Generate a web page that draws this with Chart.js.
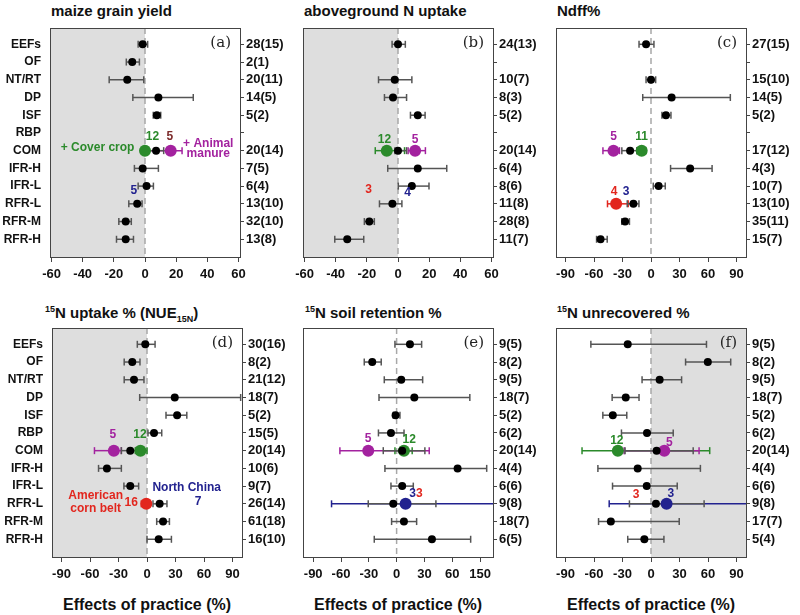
<!DOCTYPE html>
<html>
<head>
<meta charset="utf-8">
<script src="https://cdn.jsdelivr.net/npm/chart.js@4.4.0/dist/chart.umd.min.js"></script>
<style>
body { margin:0; background:#fff; overflow:hidden; }
#wrap { position:relative; width:800px; height:615px; font-family:"Liberation Sans", Arial, sans-serif; color:#111; }
canvas { position:absolute; }
.ttl { position:absolute; font-weight:bold; font-size:15px; line-height:18px; white-space:nowrap; }
.xttl { position:absolute; font-weight:bold; font-size:16px; line-height:18px; width:190px; text-align:center; white-space:nowrap; }
.sup { font-size:9px; position:relative; top:-6px; }
.sub { font-size:9px; position:relative; top:4px; }
</style>
</head>
<body>
<div id="wrap">
  <div class="ttl" style="left:51px;top:2px">maize grain yield</div>
  <div class="ttl" style="left:304px;top:2px">aboveground N uptake</div>
  <div class="ttl" style="left:557px;top:2px">Ndff%</div>
  <div class="ttl" style="left:45px;top:304px"><span class="sup">15</span>N uptake % (NUE<span class="sub">15N</span>)</div>
  <div class="ttl" style="left:305px;top:304px"><span class="sup">15</span>N soil retention %</div>
  <div class="ttl" style="left:557px;top:304px"><span class="sup">15</span>N unrecovered %</div>
  <div class="xttl" style="left:52px;top:596px">Effects of practice (%)</div>
  <div class="xttl" style="left:303px;top:596px">Effects of practice (%)</div>
  <div class="xttl" style="left:556px;top:596px">Effects of practice (%)</div>

  <canvas id="pa" width="294" height="300" style="left:0px;top:0px"></canvas>
  <canvas id="pb" width="294" height="300" style="left:253px;top:0px"></canvas>
  <canvas id="pc" width="294" height="300" style="left:506px;top:0px"></canvas>
  <canvas id="pd" width="294" height="315" style="left:2px;top:300px"></canvas>
  <canvas id="pe" width="294" height="315" style="left:253px;top:300px"></canvas>
  <canvas id="pf" width="294" height="315" style="left:506px;top:300px"></canvas>
</div>
<script>
// practices (rows, top to bottom)
const rowNames = ['EEFs','OF','NT/RT','DP','ISF','RBP','COM','IFR-H','IFR-L','RFR-L','RFR-M','RFR-H'];

// x axis ticks
const ticks60 = [-60,-40,-20,0,20,40,60];
const ticks90 = [-90,-60,-30,0,30,60,90];
const labels60 = ['-60','-40','-20','0','20','40','60'];
const labels90 = ['-90','-60','-30','0','30','60','90'];
const labelsE = ['-90','-60','-30','0','30','60','150'];

// (a) maize grain yield
const aCounts = ['28(15)','2(1)','20(11)','14(5)','5(2)','','20(14)','7(5)','6(4)','13(10)','32(10)','13(8)'];
const aMean = [-1.5, -8.2, -11.4, 8.6, 7.6, null, 7.1, -1.5, 1, -5, -12.4, -12.4];
const aLow  = [-4.4, -12, -23, -7.8, 5.3, null, 2, -6.8, -4.4, -10.4, -16.8, -18.3];
const aHigh = [1.7, -3.6, -0.8, 31, 10.1, null, 12, 8.6, 5.4, -1.9, -8.8, -7.4];
const aGrpName = ['Cover crop','Animal manure'];
const aGrpRow  = ['COM','COM'];
const aGrpMean = [0, 16.5];
const aGrpLow  = [null, 1];
const aGrpHigh = [null, 23.8];

// (b) aboveground N uptake
const bCounts = ['24(13)','','10(7)','8(3)','5(2)','','20(14)','6(4)','8(6)','11(8)','28(8)','11(7)'];
const bMean = [0, null, -2.1, -3.2, 12.7, null, 0, 12.7, 8.9, -3.6, -18.4, -32.6];
const bLow  = [-3.8, null, -12.5, -8.7, 8, null, -2, -6.6, 0.2, -11.9, -21.6, -40.6];
const bHigh = [4.7, null, 8.9, 5.5, 17.4, null, 5.5, 31.3, 19.9, 2.5, -15.2, -22];
const bGrpName = ['Cover crop','Animal manure'];
const bGrpRow  = ['COM','COM'];
const bGrpMean = [-7.2, 11];
const bGrpLow  = [-14.6, 6.5];
const bGrpHigh = [4.2, 17.6];

// (c) Ndff%
const cCounts = ['27(15)','','15(10)','14(5)','5(2)','','17(12)','4(3)','10(7)','13(10)','35(11)','15(7)'];
const cMean = [-5.2, null, 0, 21.7, 15.7, null, -22, 41.2, 8, -18.5, -27.3, -53.1];
const cLow  = [-12.6, null, -5.2, -8.7, 11.5, null, -30.7, 20.6, 2.4, -25, -30.8, -57.3];
const cHigh = [3.1, null, 4.9, 83.5, 21, null, -15, 64.3, 15, -12.7, -22.7, -46.1];
const cGrpName = ['Animal manure','Cover crop','American corn belt'];
const cGrpRow  = ['COM','COM','RFR-L'];
const cGrpMean = [-39.5, -9.8, -36.7];
const cGrpLow  = [-50.6, -15, -45.8];
const cGrpHigh = [-33.2, -5.2, -24];

// (d) 15N uptake %
const dCounts = ['30(16)','8(2)','21(12)','18(7)','5(2)','15(5)','20(14)','10(6)','9(7)','26(14)','61(18)','16(10)'];
const dMean = [-1.8, -15.5, -13.7, 29.2, 31.7, 7.4, -17.6, -42.2, -17.6, 13.3, 16.9, 12.3];
const dLow  = [-10.2, -24, -24, -7.7, 20, 1, -27, -51, -24.3, 6.3, 10.2, 0];
const dHigh = [8.5, -7.4, -3.2, 98.6, 41.9, 15.5, -11.3, -27, -8.8, 21, 23.6, 25.7];
const dGrpName = ['Animal manure','Cover crop','American corn belt'];
const dGrpRow  = ['COM','COM','RFR-L'];
const dGrpMean = [-34.9, -6.9, -0.7];
const dGrpLow  = [-55.3, -12.3, -6];
const dGrpHigh = [-27, 0, 3];

// (e) 15N soil retention %
const eCounts = ['9(5)','8(2)','9(5)','18(7)','5(2)','6(2)','20(14)','4(4)','6(6)','9(8)','18(7)','6(5)'];
const eMean = [14.4, -26.3, 5, 19.1, -1.1, -6.1, 6, 65.8, 6, -3.6, 7.9, 38.1];
const eLow  = [-1.8, -34.9, -13.3, -19, -3.6, -19.6, -14.4, -12.6, -6.1, -30.6, -5.4, -24.1];
const eHigh = [27, -16.6, 28.1, 79, 3.6, 8, 30.5, 97.2, 18, 42.4, 21.6, 79.9];
const eGrpName = ['Animal manure','Cover crop','North China'];
const eGrpRow  = ['COM','COM','RFR-L'];
const eGrpMean = [-30.6, 7.9, 9.7];
const eGrpLow  = [-61.2, -1.8, -70.2];
const eGrpHigh = [35.2, 16.8, 160];

// (f) 15N unrecovered %
const fCounts = ['9(5)','8(2)','9(5)','18(7)','5(2)','6(2)','20(14)','4(4)','6(6)','9(8)','17(7)','5(4)'];
const fMean = [-24.5, 59.8, 9.1, -26.6, -40.2, -4.2, 5.9, -14, -4.5, 5.2, -42.3, -7];
const fLow  = [-63.3, 36.4, -9.4, -40.9, -50.7, -31.1, -27.3, -55.9, -40.5, -22.7, -55.2, -24.5];
const fHigh = [58.4, 83.9, 32.2, -12.6, -25.5, 23.4, 44.4, 52, 27.6, 55.9, 29.7, 13.6];
const fGrpName = ['Cover crop','Animal manure','North China'];
const fGrpRow  = ['COM','COM','RFR-L'];
const fGrpMean = [-34.9, 14, 16.4];
const fGrpLow  = [-72.6, -28.3, -44];
const fGrpHigh = [61.8, 50.6, 160];

// text annotations: [text, x value, row value, colour key, align]
const aNotes = [['12',4.8,6.19,'Cover crop'],['5',16,6.19,'count'],['+ Cover crop',-6.8,6.81,'Cover crop','right'],
  ['+ Animal',40.6,6.62,'Animal manure'],['manure',40.6,7.19,'Animal manure'],['5',-7.2,9.27,'North China']];
const bNotes = [['12',-8.7,6.38,'Cover crop'],['5',11,6.38,'Animal manure'],['3',-18.9,9.22,'American corn belt'],['4',6.2,9.37,'North China']];
const cNotes = [['5',-39.4,6.24,'Animal manure'],['11',-9.8,6.24,'Cover crop'],['4',-38.8,9.31,'American corn belt'],['3',-26.2,9.31,'North China']];
const dNotes = [['5',-35.9,6.11,'Animal manure'],['12',-7.5,6.11,'Cover crop'],['American',-54,9.53,'American corn belt'],
  ['corn belt',-54,10.26,'American corn belt'],['16',-16.6,9.95,'American corn belt'],['North China',41.8,9.07,'North China'],['7',53.9,9.9,'North China']];
const eNotes = [['5',-30.7,6.3,'Animal manure'],['12',13.6,6.4,'Cover crop'],['3',17.3,9.4,'North China'],['3',24.4,9.4,'American corn belt']];
const fNotes = [['12',-36,6.45,'Cover crop'],['5',19.2,6.55,'Animal manure'],['3',-15.7,9.5,'American corn belt'],['3',21,9.4,'North China']];

// styles
const colors = {'Cover crop':'#2b8a2b','Animal manure':'#a3229f','American corn belt':'#e2261e','North China':'#22228f','count':'#7c2a2a'};
const barGray = '#555';
const FONT = "'Liberation Sans', Arial, sans-serif";
Chart.defaults.color = '#111';
Chart.defaults.font.family = FONT;

const panels = [
  {id:'pa', names:rowNames, counts:aCounts, mean:aMean, low:aLow, high:aHigh, gName:aGrpName, gRow:aGrpRow, gMean:aGrpMean, gLow:aGrpLow, gHigh:aGrpHigh,
   xmin:-61, xmax:61, ticks:ticks60, tickLabels:labels60, shade:'left', tag:'(a)', notes:aNotes, bottom:43},
  {id:'pb', names:[], counts:bCounts, mean:bMean, low:bLow, high:bHigh, gName:bGrpName, gRow:bGrpRow, gMean:bGrpMean, gLow:bGrpLow, gHigh:bGrpHigh,
   xmin:-61, xmax:61, ticks:ticks60, tickLabels:labels60, shade:'left', tag:'(b)', notes:bNotes, bottom:43},
  {id:'pc', names:[], counts:cCounts, mean:cMean, low:cLow, high:cHigh, gName:cGrpName, gRow:cGrpRow, gMean:cGrpMean, gLow:cGrpLow, gHigh:cGrpHigh,
   xmin:-100, xmax:100, ticks:ticks90, tickLabels:labels90, shade:null, tag:'(c)', notes:cNotes, bottom:43},
  {id:'pd', names:rowNames, counts:dCounts, mean:dMean, low:dLow, high:dHigh, gName:dGrpName, gRow:dGrpRow, gMean:dGrpMean, gLow:dGrpLow, gHigh:dGrpHigh,
   xmin:-100, xmax:100, ticks:ticks90, tickLabels:labels90, shade:'left', tag:'(d)', notes:dNotes, bottom:58},
  {id:'pe', names:[], counts:eCounts, mean:eMean, low:eLow, high:eHigh, gName:eGrpName, gRow:eGrpRow, gMean:eGrpMean, gLow:eGrpLow, gHigh:eGrpHigh,
   xmin:-101, xmax:104, ticks:ticks90, tickLabels:labelsE, shade:null, tag:'(e)', notes:eNotes, bottom:58},
  {id:'pf', names:[], counts:fCounts, mean:fMean, low:fLow, high:fHigh, gName:fGrpName, gRow:fGrpRow, gMean:fGrpMean, gLow:fGrpLow, gHigh:fGrpHigh,
   xmin:-100, xmax:100, ticks:ticks90, tickLabels:labels90, shade:'right', tag:'(f)', notes:fNotes, bottom:58}
];

const rowTicks = rowNames.map((n, i) => i + 1);

function whisker(lo, hi, row, color) {
  return {
    data: [{x: lo, y: row}, {x: hi, y: row}],
    showLine: true, borderColor: color, borderWidth: 1.5,
    pointStyle: 'line', rotation: 90, pointRadius: 3.5, pointHoverRadius: 3.5,
    pointBorderColor: color, pointBorderWidth: 1.5
  };
}
function dots(points, color, r) {
  return { data: points, showLine: false, pointStyle: 'circle', pointRadius: r, pointHoverRadius: r,
    backgroundColor: color, borderColor: color, pointBorderWidth: 0 };
}

function buildDatasets(p) {
  const ds = [];
  p.gName.forEach((g, k) => {
    if (p.gLow[k] != null) ds.push(whisker(p.gLow[k], p.gHigh[k], rowNames.indexOf(p.gRow[k]) + 1, colors[g]));
  });
  p.mean.forEach((m, i) => {
    if (p.low[i] != null) ds.push(whisker(p.low[i], p.high[i], i + 1, barGray));
  });
  p.gName.forEach((g, k) => {
    ds.push(dots([{x: p.gMean[k], y: rowNames.indexOf(p.gRow[k]) + 1}], colors[g], 6));
  });
  const pts = [];
  p.mean.forEach((m, i) => { if (m != null) pts.push({x: m, y: i + 1}); });
  ds.push(dots(pts, '#000', 4));
  return ds.reverse(); // first dataset is drawn on top
}

function panelPlugin(p) {
  return {
    id: 'panel_' + p.id,
    beforeDatasetsDraw(chart) {
      const {ctx, chartArea: a, scales: {x}} = chart;
      const z = x.getPixelForValue(0);
      ctx.save();
      ctx.fillStyle = '#dedede';
      if (p.shade === 'left') ctx.fillRect(a.left, a.top, z - a.left, a.bottom - a.top);
      if (p.shade === 'right') ctx.fillRect(z, a.top, a.right - z, a.bottom - a.top);
      ctx.strokeStyle = '#a8a8a8';
      ctx.lineWidth = 1.5;
      ctx.setLineDash([6, 4]);
      ctx.beginPath(); ctx.moveTo(z, a.top); ctx.lineTo(z, a.bottom); ctx.stroke();
      ctx.restore();
    },
    afterDatasetsDraw(chart) {
      const {ctx, chartArea: a, scales: {x, y}} = chart;
      ctx.save();
      ctx.font = 'bold 12px ' + FONT;
      ctx.textBaseline = 'middle';
      p.notes.forEach(n => {
        ctx.fillStyle = colors[n[3]];
        ctx.textAlign = n[4] || 'center';
        ctx.fillText(n[0], x.getPixelForValue(n[1]), y.getPixelForValue(n[2]));
      });
      ctx.strokeStyle = '#444';
      ctx.lineWidth = 1;
      ctx.strokeRect(Math.round(a.left) + 0.5, Math.round(a.top) + 0.5, Math.round(a.right - a.left), Math.round(a.bottom - a.top));
      ctx.fillStyle = '#222';
      ctx.font = "15px 'DejaVu Serif', 'Liberation Serif', serif";
      ctx.textAlign = 'right';
      ctx.fillText(p.tag, a.right - 9, a.top + 15);
      ctx.restore();
    }
  };
}

panels.forEach(p => {
  const tickFont = {family: FONT, weight: 'bold', size: 13};
  const nameFont = {family: FONT, weight: 'bold', size: 12};
  new Chart(document.getElementById(p.id), {
    type: 'scatter',
    data: {datasets: buildDatasets(p)},
    options: {
      responsive: false,
      animation: false,
      events: [],
      layout: {padding: {top: 28, left: 0, right: 0, bottom: 0}},
      plugins: {legend: {display: false}, tooltip: {enabled: false}},
      scales: {
        x: {
          type: 'linear', position: 'bottom', min: p.xmin, max: p.xmax,
          afterBuildTicks: ax => { ax.ticks = p.ticks.map(v => ({value: v})); },
          afterFit: ax => { ax.height = p.bottom; },
          ticks: {font: tickFont, color: '#111', padding: 5, maxRotation: 0, autoSkip: false,
                  callback: v => { const i = p.ticks.indexOf(v); return i < 0 ? '' : p.tickLabels[i]; }},
          grid: {drawOnChartArea: false, drawTicks: true, tickLength: 5, color: '#444'},
          border: {display: false}
        },
        y: {
          type: 'linear', position: 'left', min: 0.08, max: 13, reverse: true,
          afterBuildTicks: ax => { ax.ticks = rowTicks.map(v => ({value: v})); },
          afterFit: ax => { ax.width = 50; },
          ticks: {font: nameFont, color: '#111', padding: 9, autoSkip: false,
                  callback: v => p.names[v - 1] || ''},
          grid: {display: false, drawTicks: false},
          border: {display: false}
        },
        y2: {
          type: 'linear', position: 'right', min: 0.08, max: 13, reverse: true,
          afterBuildTicks: ax => { ax.ticks = rowTicks.map(v => ({value: v})); },
          afterFit: ax => { ax.width = 54; },
          ticks: {font: tickFont, color: '#111', padding: 2, autoSkip: false,
                  callback: v => p.counts[v - 1] || ''},
          grid: {drawOnChartArea: false, drawTicks: true, tickLength: 4, color: '#444'},
          border: {display: false}
        }
      }
    },
    plugins: [panelPlugin(p)]
  });
});
</script>
</body>
</html>
